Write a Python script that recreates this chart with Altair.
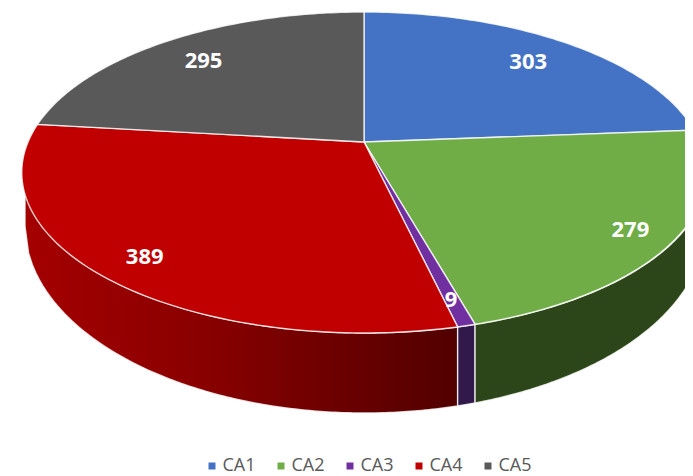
import math
import altair as alt

categories = ["CA1", "CA2", "CA3", "CA4", "CA5"]
values = [303, 279, 9, 389, 295]
top_colors = ["#4472C4", "#70AD47", "#7030A0", "#C00000", "#595959"]

# perspective model of the pie (reference pixels)
APEX_X, APEX_Y = 364.0, 142.0
K, A, B = 0.19, 154.7, 336.0
BOT_CX, BOT_CY, BOT_RX, BOT_RY = 365.0, 226.0, 340.0, 187.0
TOP_CX, TOP_CY, TOP_RX, TOP_RY = 365.0, 172.5, 342.0, 160.5
LABEL_RADIUS = {"CA1": 0.80, "CA2": 0.875, "CA3": 0.875, "CA4": 0.86, "CA5": 0.80}


def project(theta_deg, f=1.0):
    t = math.radians(theta_deg)
    X, Y = f * math.sin(t), f * math.cos(t)
    w = 1 + K * Y
    return APEX_X + B * X / w, APEX_Y - A * Y / w


total = sum(values)
edges = [0.0]
for v in values:
    edges.append(edges[-1] + v / total * 360)


def poly_feature(points, name):
    ring = [list(p) for p in points]
    ring.append(ring[0])
    return {"type": "Feature", "properties": {"name": name},
            "geometry": {"type": "Polygon", "coordinates": [ring]}}


def features_data(features):
    return alt.InlineData(values={"type": "FeatureCollection", "features": features},
                          format=alt.DataFormat(property="features", type="json"))


top_features = []
for i, name in enumerate(categories):
    n = 90
    arc = [project(edges[i] + (edges[i + 1] - edges[i]) * j / n) for j in range(n + 1)]
    top_features.append(poly_feature([(APEX_X, APEX_Y)] + arc, name))


def top_y(x):
    u = min(1.0, abs(x - TOP_CX) / TOP_RX)
    return TOP_CY + TOP_RY * math.sqrt(1 - u * u)


def bot_y(x):
    u = min(1.0, abs(x - BOT_CX) / BOT_RX)
    return BOT_CY + BOT_RY * math.sqrt(1 - u * u)


def wall_feature(xa, xb, name):
    n = 120
    xs = [xa + (xb - xa) * j / n for j in range(n + 1)]
    up = [(x, top_y(x)) for x in xs]
    down = [(x, bot_y(x)) for x in reversed(xs)]
    return poly_feature(up + down, name)


x_ca2_ca3 = project(edges[2])[0]
x_ca3_ca4 = project(edges[3])[0]
walls = [
    ("CA4", BOT_CX - BOT_RX, x_ca3_ca4, [("#A40000", 0), ("#8A0000", 0.4), ("#520000", 1)]),
    ("CA3", x_ca3_ca4, x_ca2_ca3, [("#32194C", 0), ("#32194C", 1)]),
    ("CA2", x_ca2_ca3, BOT_CX + BOT_RX, [("#2C4519", 0), ("#2C4519", 1)]),
]

projection = dict(type="identity", scale=1, translate=[-8, -8])


def wall_chart(name, xa, xb, stops):
    fill = alt.Gradient(gradient="linear", x1=0, x2=1, y1=0, y2=0,
                        stops=[alt.GradientStop(color=c, offset=o) for c, o in stops])
    return (alt.Chart(features_data([wall_feature(xa, xb, name)]))
            .mark_geoshape(fill=fill, stroke="#ffffff", strokeWidth=1.4, strokeOpacity=0.8)
            .project(**projection))


top_chart = (
    alt.Chart(features_data(top_features))
    .mark_geoshape(stroke="#ffffff", strokeWidth=1.4, strokeOpacity=0.8)
    .encode(
        color=alt.Color(
            "properties.name:N",
            scale=alt.Scale(domain=categories, range=top_colors),
            legend=alt.Legend(
                title=None, orient="none", legendX=195, legendY=449, direction="horizontal",
                columns=5, symbolType="square", symbolSize=49, symbolStrokeWidth=0,
                labelFont="Open Sans", labelFontSize=18, labelColor="#595959",
                labelOffset=1.5, columnPadding=16, padding=0,
            ),
        )
    )
    .project(**projection)
)

label_rows = []
for i, (name, v) in enumerate(zip(categories, values)):
    mid = (edges[i] + edges[i + 1]) / 2
    x, y = project(mid, LABEL_RADIUS[name])
    label_rows.append({"x": x, "y": y, "value": str(v)})

labels = (
    alt.Chart(alt.Data(values=label_rows))
    .mark_text(font="Open Sans", fontSize=22, fontWeight="bold", color="#ffffff", baseline="middle", align="center", dy=2)
    .encode(longitude="x:Q", latitude="y:Q", text="value:N")
    .project(**projection)
)

chart = (
    alt.layer(*[wall_chart(*w) for w in walls], top_chart, labels)
    .properties(width=677, height=468, padding=0, autosize=alt.AutoSizeParams(type="none"))
    .configure_view(stroke=None)
)

chart.save("out.html", embed_options={"renderer": "svg", "actions": False})
